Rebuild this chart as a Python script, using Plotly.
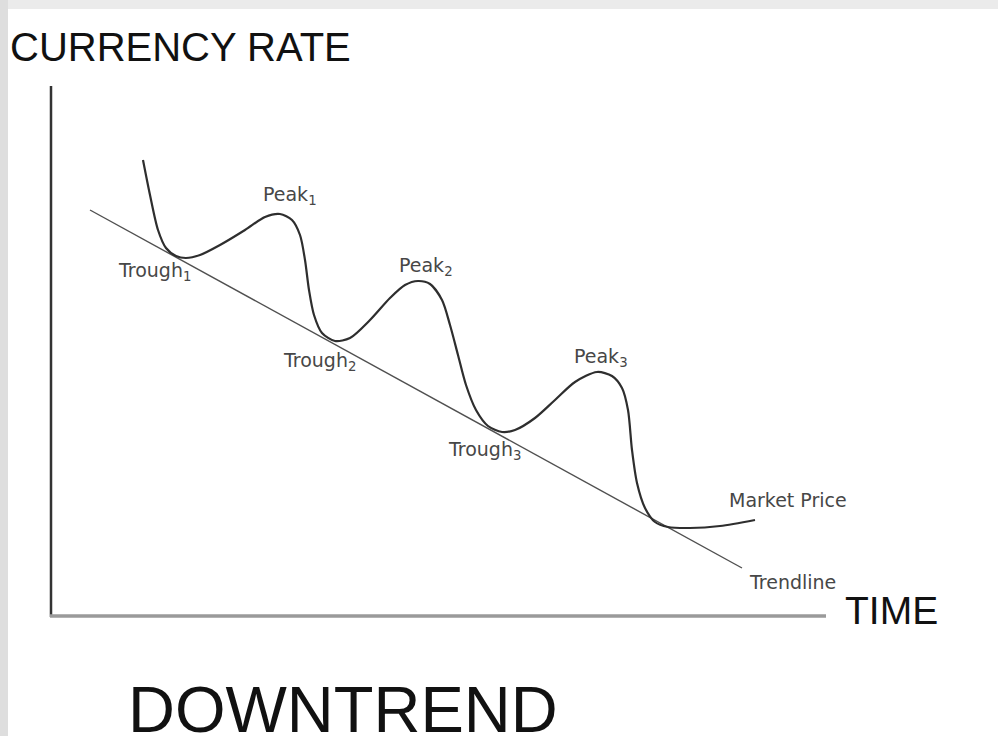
import plotly.graph_objects as go

# Market price curve (time, currency rate)
time = [143, 150, 158, 166, 176, 186, 200, 220, 245, 265, 280, 292, 300, 305, 309, 314,
        322, 335, 350, 370, 390, 405, 418, 430, 442, 450, 458, 466, 476, 488, 502, 515,
        535, 555, 575, 597, 612, 622, 628, 632, 637, 645, 655, 668, 690, 720, 755]
rate = [576, 541, 506, 488, 480, 478, 481, 491, 506, 519, 522, 516, 501, 476, 446, 421,
        403, 395, 398, 416, 438, 451, 455, 452, 436, 411, 381, 351, 326, 310, 304, 306,
        318, 336, 354, 364, 360, 348, 326, 286, 253, 228, 214, 209, 208, 210, 216]

# Trendline end points
trend_time = [90, 742]
trend_rate = [526, 168]

# Point labels
label_text = ["Peak<sub>1</sub>", "Trough<sub>1</sub>", "Peak<sub>2</sub>", "Trough<sub>2</sub>",
              "Trough<sub>3</sub>", "Peak<sub>3</sub>", "Market Price", "Trendline"]
label_time = [261, 116, 397, 281, 446, 572, 727, 747]
label_rate = [541, 465, 470, 375, 286, 379, 236, 154]

fig = go.Figure()

fig.add_trace(go.Scatter(x=trend_time, y=trend_rate, mode="lines",
                         line=dict(color="#505050", width=1.4), hoverinfo="skip"))
fig.add_trace(go.Scatter(x=time, y=rate, mode="lines",
                         line=dict(color="#2e2e2e", width=2.2, shape="spline", smoothing=0.8),
                         hoverinfo="skip"))

shapes = [
    dict(type="rect", xref="paper", yref="paper", x0=0, x1=1, y0=1 - 9 / 736, y1=1,
         fillcolor="#ebebeb", line_width=0, layer="below"),
    dict(type="rect", xref="paper", yref="paper", x0=0, x1=8 / 998, y0=0, y1=1,
         fillcolor="#dedede", line_width=0, layer="below"),
    # y axis
    dict(type="line", xref="x", yref="y", x0=51, x1=51, y0=119, y1=650,
         line=dict(color="#333333", width=2.5)),
    # x axis
    dict(type="line", xref="x", yref="y", x0=50, x1=826, y0=120, y1=120,
         line=dict(color="#9a9a9a", width=3.5)),
]

annotations = []
for t, xx, yy in zip(label_text, label_time, label_rate):
    annotations.append(dict(x=xx, y=yy, xref="x", yref="y", text=t, showarrow=False,
                            xanchor="left", yanchor="middle",
                            font=dict(family="DejaVu Sans", size=19, color="#474747")))

annotations += [
    dict(x=8, y=736 - 47, xref="x", yref="y", text="CURRENCY RATE", showarrow=False,
         xanchor="left", yanchor="middle",
         font=dict(family="Liberation Sans, Arial", size=40, color="#111111")),
    dict(x=843, y=736 - 610, xref="x", yref="y", text="TIME", showarrow=False,
         xanchor="left", yanchor="middle",
         font=dict(family="Liberation Sans, Arial", size=39, color="#111111")),
    dict(x=126, y=736 - 709, xref="x", yref="y", text="DOWNTREND", showarrow=False,
         xanchor="left", yanchor="middle",
         font=dict(family="Liberation Sans, Arial", size=65, color="#111111")),
]

fig.update_layout(
    width=998, height=736, autosize=False,
    margin=dict(l=0, r=0, t=0, b=0),
    paper_bgcolor="white", plot_bgcolor="white",
    showlegend=False,
    xaxis=dict(range=[0, 998], visible=False, fixedrange=True),
    yaxis=dict(range=[0, 736], visible=False, fixedrange=True),
    shapes=shapes,
    annotations=annotations,
)

fig.write_html("out.html", config={"displayModeBar": False},
               post_script="document.body.style.margin='0';document.body.style.overflow='hidden';")
